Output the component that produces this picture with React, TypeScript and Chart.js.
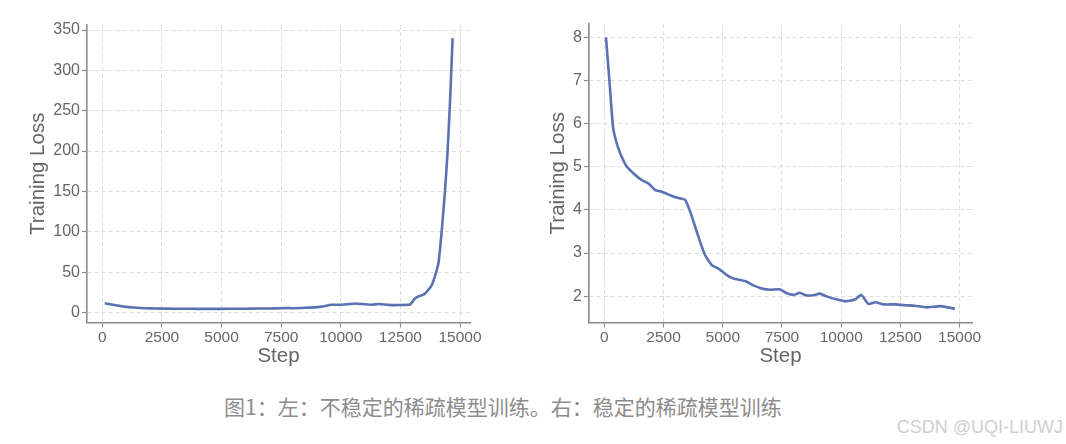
import React, { useEffect, useRef } from "react";
import { Chart, registerables } from "chart.js";

Chart.register(...registerables);

// ---- data ----
const stepTicks = [0, 2500, 5000, 7500, 10000, 12500, 15000];
const leftLossTicks = [0, 50, 100, 150, 200, 250, 300, 350];
const rightLossTicks = [2, 3, 4, 5, 6, 7, 8];

const leftSteps = [
  100, 400, 700, 1000, 1300, 1600, 2000, 2500, 3000, 3500, 4000, 4500, 5000, 5500, 6000, 6500,
  7000, 7500, 7800, 8000, 8500, 9000, 9300, 9600, 10000, 10300, 10600, 11000, 11300, 11600, 12000,
  12400, 12900, 13100, 13300, 13500, 13800, 13950, 14100, 14230, 14370, 14480, 14580, 14690,
];
const leftLoss = [
  11.4, 9.8, 8.3, 7.0, 6.2, 5.6, 5.1, 4.8, 4.7, 4.6, 4.5, 4.5, 4.5, 4.6, 4.7, 4.9,
  5.0, 5.3, 5.6, 5.3, 5.8, 6.6, 7.8, 9.5, 9.6, 10.2, 11.2, 10.2, 9.6, 10.5, 9.4,
  9.2, 9.8, 17, 20.5, 22.5, 33, 45, 62, 100, 150, 200, 260, 340,
];

const rightSteps = [
  70, 225, 365, 505, 674, 955, 1306, 1587, 1868, 2149, 2430, 2781, 3090, 3413, 3624, 3835, 4046,
  4256, 4537, 4818, 5169, 5450, 5942, 6293, 6644, 6995, 7400, 7700, 8000, 8250, 8500, 8800, 9100,
  9400, 9800, 10100, 10300, 10600, 10850, 11150, 11450, 11800, 12300, 12700, 13100, 13600, 14200,
  14800,
];
const rightLoss = [
  8.0, 6.93, 5.93, 5.58, 5.31, 5.0, 4.81, 4.69, 4.61, 4.46, 4.42, 4.34, 4.28, 4.23, 3.96, 3.61, 3.26,
  2.95, 2.72, 2.64, 2.49, 2.41, 2.35, 2.25, 2.18, 2.15, 2.16, 2.07, 2.03, 2.08, 2.02, 2.02, 2.06,
  1.99, 1.93, 1.89, 1.89, 1.93, 2.03, 1.82, 1.86, 1.81, 1.81, 1.79, 1.78, 1.74, 1.77,
  1.71,
];

const xLabel = "Step";
const yLabel = "Training Loss";
const caption = "图1：左：不稳定的稀疏模型训练。右：稳定的稀疏模型训练";
const watermark = "CSDN @UQI-LIUWJ";

// ---- style ----
const FONT = "'Liberation Sans', Arial, Helvetica, sans-serif";
const LINE_COLOR = "#5a72b4";
const TEXT_COLOR = "#666666";
const AXIS_COLOR = "#8a8a8a";
const GRID_COLOR = "#dcdcdc";

type PanelProps = {
  steps: number[];
  loss: number[];
  yTicks: number[];
  xMin: number;
  xMax: number;
  yMin: number;
  yMax: number;
  yAxisWidth: number;
  padTop: number;
  padRight: number;
  left: number;
};

function Panel(p: PanelProps) {
  const ref = useRef<HTMLCanvasElement | null>(null);
  useEffect(() => {
    if (!ref.current) return;
    const data = p.steps.map((s, i) => ({ x: s, y: p.loss[i] }));
    const chart = new Chart(ref.current, {
      type: "line",
      data: {
        datasets: [
          {
            data,
            borderColor: LINE_COLOR,
            borderWidth: 2.6,
            pointRadius: 0,
            tension: 0.15,
            fill: false,
          },
        ],
      },
      options: {
        animation: false,
        responsive: false,
        maintainAspectRatio: false,
        layout: { padding: { left: 0, top: p.padTop, right: p.padRight, bottom: 0 } },
        plugins: { legend: { display: false }, tooltip: { enabled: false }, title: { display: false } },
        scales: {
          x: {
            type: "linear",
            min: p.xMin,
            max: p.xMax,
            afterBuildTicks: (scale: any) => {
              scale.ticks = stepTicks.map((v) => ({ value: v }));
            },
            afterFit: (scale: any) => {
              scale.height = 57.5;
            },
            ticks: {
              autoSkip: false,
              maxRotation: 0,
              padding: 1,
              color: TEXT_COLOR,
              font: { family: FONT, size: 15.5 },
              callback: (v: any) => String(v),
            },
            grid: {
              color: GRID_COLOR,
              lineWidth: 1,
              drawTicks: true,
              tickLength: 5,
              tickColor: AXIS_COLOR,
              tickWidth: 1.2,
              tickBorderDash: [],
            },
            border: { display: true, color: AXIS_COLOR, width: 1.6, dash: [4, 3] },
            title: {
              display: true,
              text: xLabel,
              color: TEXT_COLOR,
              font: { family: FONT, size: 20.5 },
              padding: { top: 0, bottom: 11 },
            },
          },
          y: {
            type: "linear",
            min: p.yMin,
            max: p.yMax,
            afterBuildTicks: (scale: any) => {
              scale.ticks = p.yTicks.map((v) => ({ value: v }));
            },
            afterFit: (scale: any) => {
              scale.width = p.yAxisWidth;
            },
            ticks: {
              autoSkip: false,
              padding: 2,
              color: TEXT_COLOR,
              font: { family: FONT, size: 16 },
              callback: (v: any) => String(v),
            },
            grid: {
              color: GRID_COLOR,
              lineWidth: 1,
              drawTicks: true,
              tickLength: 5,
              tickColor: AXIS_COLOR,
              tickWidth: 1.2,
              tickBorderDash: [],
            },
            border: { display: true, color: AXIS_COLOR, width: 1.6, dash: [4, 3] },
            title: {
              display: true,
              text: yLabel,
              color: TEXT_COLOR,
              font: { family: FONT, size: 20.5 },
              padding: { top: 26, bottom: 0 },
            },
          },
        },
      },
    } as any);
    return () => chart.destroy();
  }, []);
  return (
    <div style={{ position: "absolute", left: p.left, top: 0, width: 500, height: 380 }}>
      <canvas ref={ref} width={500} height={380} style={{ width: 500, height: 380, display: "block" }} />
    </div>
  );
}

export default function App() {
  return (
    <div
      style={{
        position: "fixed",
        left: 0,
        top: 0,
        width: 1066,
        height: 444,
        background: "#ffffff",
        overflow: "hidden",
      }}
    >
      <Panel
        steps={leftSteps}
        loss={leftLoss}
        yTicks={leftLossTicks}
        xMin={-641}
        xMax={15419}
        yMin={-12.4}
        yMax={356.2}
        yAxisWidth={87}
        padTop={25}
        padRight={30}
        left={0}
      />
      <Panel
        steps={rightSteps}
        loss={rightLoss}
        yTicks={rightLossTicks}
        xMin={-646}
        xMax={15521}
        yMin={1.39}
        yMax={8.31}
        yAxisWidth={69}
        padTop={24}
        padRight={48}
        left={520}
      />
      <div
        style={{
          position: "absolute",
          left: 224,
          top: 395,
          fontFamily: "'Noto Sans CJK SC', sans-serif",
          fontSize: 21,
          lineHeight: "23px",
          color: "#8c8c8c",
          whiteSpace: "nowrap",
        }}
      >
        {caption}
      </div>
      <div
        style={{
          position: "absolute",
          right: 3,
          top: 417,
          fontFamily: FONT,
          fontSize: 18,
          lineHeight: "20px",
          color: "#cfcfcf",
          whiteSpace: "nowrap",
        }}
      >
        {watermark}
      </div>
    </div>
  );
}
